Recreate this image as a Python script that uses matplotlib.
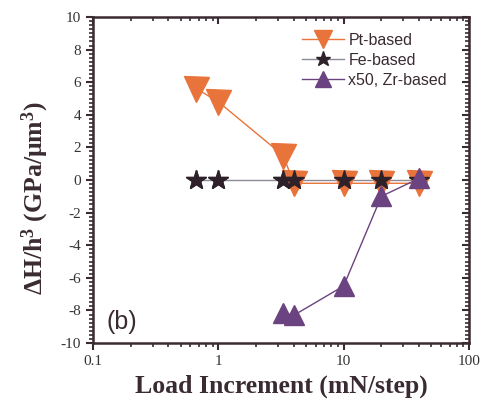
import matplotlib
matplotlib.use("Agg")
import matplotlib.pyplot as plt
from matplotlib.ticker import MultipleLocator, LogLocator, FixedFormatter, FixedLocator, NullFormatter

plt.rcParams["mathtext.fontset"] = "custom"
plt.rcParams["mathtext.rm"] = "Liberation Serif"
plt.rcParams["mathtext.it"] = "Liberation Serif:italic"
plt.rcParams["mathtext.bf"] = "Liberation Serif:bold"
plt.rcParams["axes.unicode_minus"] = False

# Data
pt_x = [0.67, 1.0, 3.3, 4.0, 10, 20, 40]
pt_y = [5.6, 4.8, 1.5, -0.2, -0.2, -0.2, -0.2]
fe_x = [0.67, 1.0, 3.3, 4.0, 10, 20, 40]
fe_y = [0.0, 0.0, 0.0, 0.0, 0.0, 0.0, 0.0]
zr_x = [3.3, 4.0, 10, 20, 40]
zr_y = [-8.15, -8.3, -6.5, -1.0, 0.1]
labels = ["Pt-based", "Fe-based", "x50, Zr-based"]
xtick_vals = [0.1, 1, 10, 100]
xtick_labels = ["0.1", "1", "10", "100"]
ytick_vals = [-10, -8, -6, -4, -2, 0, 2, 4, 6, 8, 10]

orange = "#E8743B"
purple = "#6B4380"
dark = "#2E2129"
axc = "#3A2B33"

fig = plt.figure(figsize=(4.84, 4.05), dpi=100)
ax = fig.add_axes([0.192, 0.153, 0.777, 0.805])

ax.plot(fe_x, fe_y, color="#8C8A99", lw=1.0, marker="*", ms=15, mfc=dark, mec=dark,
        label=labels[1], zorder=2)
ax.plot(pt_x, pt_y, color=orange, lw=1.0, marker="v", ms=18, mfc=orange, mec=orange,
        label=labels[0], zorder=3)
ax.plot(zr_x, zr_y, color=purple, lw=1.0, marker="^", ms=15, mfc=purple, mec=purple,
        label=labels[2], zorder=4)
ax.plot(fe_x, fe_y, ls="none", marker="*", ms=15, mfc=dark, mec=dark, zorder=3.5)

ax.set_xscale("log")
ax.set_xlim(0.1, 100)
ax.set_ylim(-10, 10)
ax.xaxis.set_major_locator(FixedLocator(xtick_vals))
ax.xaxis.set_major_formatter(FixedFormatter(xtick_labels))
ax.xaxis.set_minor_locator(LogLocator(base=10, subs=range(2, 10), numticks=20))
ax.xaxis.set_minor_formatter(NullFormatter())
ax.yaxis.set_major_locator(FixedLocator(ytick_vals))
ax.yaxis.set_minor_locator(MultipleLocator(0.25))

for s in ax.spines.values():
    s.set_linewidth(1.8)
    s.set_color(axc)

ax.tick_params(which="major", direction="out", length=5, width=1.5, color=axc,
               labelsize=11, labelcolor="#333333")
ax.tick_params(which="minor", direction="out", length=3, width=1.2, color=axc)
for lab in ax.get_xticklabels() + ax.get_yticklabels():
    lab.set_family("Liberation Serif")

# top and right ticks pointing inward
secx = ax.secondary_xaxis("top")
secx.xaxis.set_major_locator(FixedLocator(xtick_vals))
secx.xaxis.set_minor_locator(LogLocator(base=10, subs=range(2, 10), numticks=20))
secx.xaxis.set_major_formatter(NullFormatter())
secx.xaxis.set_minor_formatter(NullFormatter())
secx.tick_params(which="major", direction="in", length=5, width=1.5, color=axc)
secx.tick_params(which="minor", direction="in", length=3, width=1.2, color=axc)
secx.spines["top"].set_visible(False)
secy = ax.secondary_yaxis("right")
secy.yaxis.set_major_locator(FixedLocator(ytick_vals))
secy.yaxis.set_minor_locator(MultipleLocator(0.25))
secy.yaxis.set_major_formatter(NullFormatter())
secy.tick_params(which="major", direction="in", length=5, width=1.5, color=axc)
secy.tick_params(which="minor", direction="in", length=3, width=1.2, color=axc)
secy.spines["right"].set_visible(False)

ax.set_xlabel("Load Increment (mN/step)", family="Liberation Serif", fontweight="bold",
              fontsize=18.5, color=axc, labelpad=5)
ax.set_ylabel(r"$\mathbf{\Delta H/h^3}$ (GPa/$\mathbf{\mu m^3}$)", family="Liberation Serif",
              fontweight="bold", fontsize=18.5, color=axc)
ax.yaxis.set_label_coords(-0.112, 0.445)

ax.text(0.035, 0.065, "(b)", transform=ax.transAxes, family="Liberation Sans",
        fontsize=18, color=axc, va="center", ha="left")

h, l = ax.get_legend_handles_labels()
order = [l.index(x) for x in labels]
leg = ax.legend([h[i] for i in order], [l[i] for i in order], loc="upper right",
                bbox_to_anchor=(0.98, 0.995), frameon=False,
                prop={"family": "Liberation Sans", "size": 11.5}, handlelength=2.6,
                handletextpad=0.3, labelspacing=0.3, markerscale=0.75)
for t in leg.get_texts():
    t.set_color(axc)

fig.savefig("out.png", dpi=100)
